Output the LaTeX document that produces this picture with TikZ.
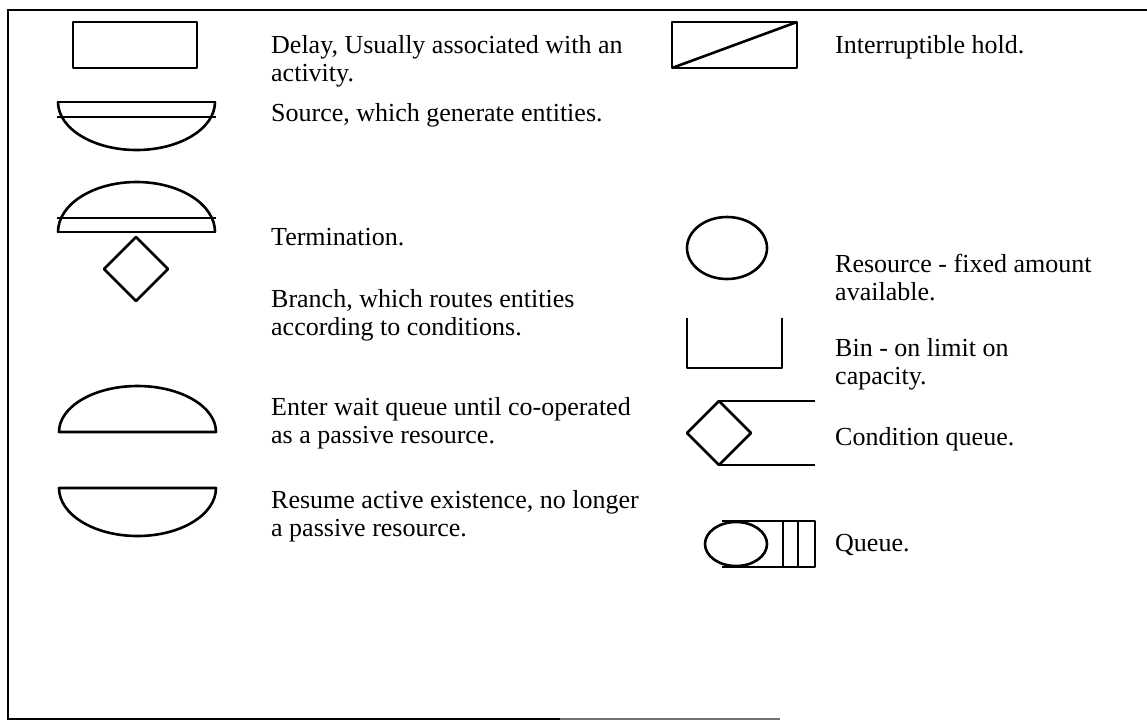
\documentclass[tikz,border=0pt]{standalone}
\usepackage{fontspec}
\setmainfont{Liberation Serif}
\begin{document}
\begin{tikzpicture}[x=1pt,y=-1pt,
  sym/.style={line width=2.6pt,line join=round},
  lbl/.style={anchor=west,inner sep=0pt,align=left,font=\fontsize{26}{28}\selectfont},
  frame/.style={line width=2.4pt}]
\useasboundingbox (0,0) rectangle (1147,726);
% frame
\draw[frame] (1147,10) -- (8,10) -- (8,719) -- (560,719);
\draw[line width=1.6pt,black!55] (560,719) -- (780,719);
% Delay
\draw[sym] (73,22) rectangle (197,68);
\node[lbl] (tdelay) at (271,61) {Delay, Usually associated with an\\activity.};
% Source
\draw[sym] (57,102) -- (216,102);
\draw[sym] (57,117) -- (216,117);
\draw[sym] (58,102) arc[start angle=180,end angle=0,x radius=78.5,y radius=48];
\node[lbl] (tsource) at (271,115) {Source, which generate entities.};
% Termination
\draw[sym] (57,232) -- (216,232);
\draw[sym] (57,218) -- (216,218);
\draw[sym] (58,232) arc[start angle=180,end angle=360,x radius=78.5,y radius=50];
\node[lbl] (tterm) at (271,237) {Termination.};
% Branch
\draw[sym] (136,237) -- (168,269) -- (136,301) -- (104,269) -- cycle;
\node[lbl] (tbranch) at (271,315) {Branch, which routes entities\\according to conditions.};
% Enter wait
\draw[sym] (59,432) -- (216,432) arc[start angle=0,end angle=-180,x radius=78.5,y radius=46] -- cycle;
\node[lbl] (twait) at (271,423) {Enter wait queue until co-operated\\as a passive resource.};
% Resume
\draw[sym] (59,488) -- (216,488) arc[start angle=0,end angle=180,x radius=78.5,y radius=48] -- cycle;
\node[lbl] (tresume) at (271,516) {Resume active existence, no longer\\a passive resource.};
% Interruptible hold
\draw[sym] (672,22) rectangle (797,68);
\draw[sym] (672,68) -- (797,22);
\node[lbl] (thold) at (835,47) {Interruptible hold.};
% Resource
\draw[sym] (727,248) ellipse[x radius=40,y radius=31];
\node[lbl] (tres) at (835,278) {Resource - fixed amount\\available.};
% Bin
\draw[sym] (687,318) -- (687,368) -- (782,368) -- (782,318);
\node[lbl] (tbin) at (835,364) {Bin - on limit on\\capacity.};
% Condition queue
\draw[sym] (719,401) -- (751,433) -- (719,465) -- (687,433) -- cycle;
\draw[sym] (719,401) -- (815,401);
\draw[sym] (719,465) -- (815,465);
\node[lbl] (tcond) at (835,439) {Condition queue.};
% Queue
\draw[sym] (736,544) ellipse[x radius=31,y radius=22];
\draw[sym] (722,521) -- (815,521) -- (815,567) -- (722,567);
\draw[sym] (783,521) -- (783,567);
\draw[sym] (798,521) -- (798,567);
\node[lbl] (tqueue) at (835,545) {Queue.};
\end{tikzpicture}
\end{document}
